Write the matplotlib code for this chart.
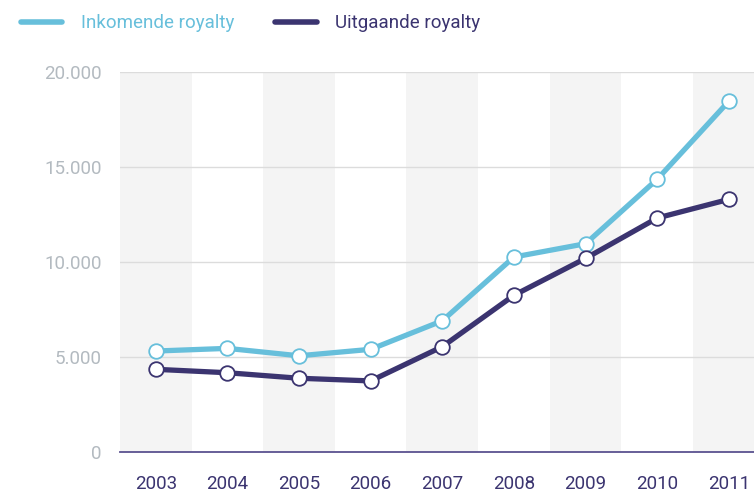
import matplotlib
matplotlib.use("Agg")
import matplotlib.pyplot as plt
from matplotlib.lines import Line2D

# Data
years = ["2003", "2004", "2005", "2006", "2007", "2008", "2009", "2010", "2011"]
inkomende = [5330, 5470, 5080, 5420, 6920, 10270, 10970, 14360, 18460]
uitgaande = [4370, 4190, 3900, 3760, 5560, 8260, 10200, 12320, 13300]
yticks = [0, 5000, 10000, 15000, 20000]
ytick_labels = ["0", "5.000", "10.000", "15.000", "20.000"]

light_blue = "#67bfdb"
navy = "#3b3470"
grey_text = "#b3bac0"

plt.rcParams["font.family"] = ["Roboto", "DejaVu Sans"]

fig = plt.figure(figsize=(7.54, 4.95), dpi=100)
ax = fig.add_axes([0.159, 0.0859, 0.841, 0.769])

x = list(range(len(years)))

# Alternating shaded bands
for i in x:
    if i % 2 == 0:
        ax.axvspan(i - 0.5, i + 0.5, color="#f4f4f4", zorder=0, lw=0)

for y in yticks[1:]:
    ax.axhline(y, color="#dcdcdc", lw=1, zorder=1)

ax.plot(x, inkomende, color=light_blue, lw=3.8, marker="o", ms=10.5,
        mfc="white", mec=light_blue, mew=1.3, zorder=3)
ax.plot(x, uitgaande, color=navy, lw=3.8, marker="o", ms=10.5,
        mfc="white", mec=navy, mew=1.3, zorder=4)

ax.set_xlim(-0.5, 8.35)
ax.set_ylim(0, 20000)
ax.set_xticks(x)
ax.set_xticklabels(years, color=navy, fontsize=13.5)
ax.set_yticks(yticks)
ax.set_yticklabels(ytick_labels, color=grey_text, fontsize=13.5)
ax.tick_params(axis="both", length=0)
ax.tick_params(axis="x", pad=16)
ax.tick_params(axis="y", pad=13)

for side in ["top", "right", "left"]:
    ax.spines[side].set_visible(False)
ax.spines["bottom"].set_color("#5b5290")
ax.spines["bottom"].set_linewidth(1.3)

handles = [
    Line2D([0], [0], color=light_blue, lw=4, solid_capstyle="round"),
    Line2D([0], [0], color=navy, lw=4, solid_capstyle="round"),
]
leg = fig.legend(handles, ["Inkomende royalty", "Uitgaande royalty"],
                 loc="upper left", bbox_to_anchor=(0.005, 1.005), ncol=2,
                 frameon=False, fontsize=13.5, handlelength=2.2,
                 handletextpad=1.0, columnspacing=2.2)
for txt, c in zip(leg.get_texts(), [light_blue, navy]):
    txt.set_color(c)

fig.savefig("out.png", dpi=100)
